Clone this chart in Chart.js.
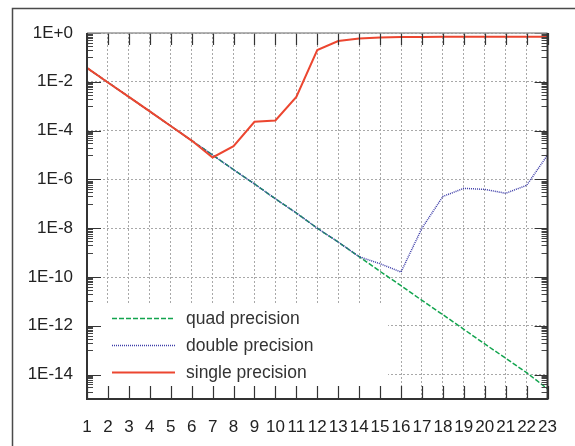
<!DOCTYPE html>
<html>
<head>
<meta charset="utf-8">
<script src="https://cdn.jsdelivr.net/npm/chart.js@4/dist/chart.umd.min.js"></script>
<style>
  html, body { margin: 0; padding: 0; background: #fff; }
  canvas { display: block; }
</style>
</head>
<body>
<canvas id="c" width="575" height="446"></canvas>
<script>
// ---- data ----
const steps = [1,2,3,4,5,6,7,8,9,10,11,12,13,14,15,16,17,18,19,20,21,22,23];
const quadError = [3.7e-2, 9.4e-3, 2.4e-3, 6.1e-4, 1.55e-4, 3.9e-5, 1.0e-5, 2.5e-6, 6.5e-7, 1.6e-7,
                   4.2e-8, 1.0e-8, 2.7e-9, 6.8e-10, 1.7e-10, 4.4e-11, 1.1e-11, 2.85e-12, 7.2e-13,
                   1.8e-13, 4.7e-14, 1.2e-14, 2.6e-15];
const doubleError = [3.7e-2, 9.4e-3, 2.4e-3, 6.1e-4, 1.55e-4, 3.9e-5, 1.0e-5, 2.5e-6, 6.5e-7, 1.6e-7,
                     4.2e-8, 1.0e-8, 2.7e-9, 6.8e-10, 3.5e-10, 1.6e-10, 1.0e-8, 2.0e-7, 4.3e-7,
                     3.9e-7, 2.7e-7, 5.7e-7, 1.0e-5];
const singleError = [3.7e-2, 9.4e-3, 2.4e-3, 6.1e-4, 1.55e-4, 3.9e-5, 7.9e-6, 2.3e-5, 2.3e-4, 2.6e-4,
                     2.4e-3, 0.2, 0.47, 0.6, 0.65, 0.68, 0.69, 0.7, 0.7, 0.7, 0.7, 0.7, 0.7];
const seriesNames = ['single precision', 'double precision', 'quad precision'];
const yTickExponents = [0, -2, -4, -6, -8, -10, -12, -14];
const yMinorExponents = [-1, -3, -5, -7, -9, -11, -13, -15];
const yMin = 1e-15, yMax = 1;

const FONT = "'Liberation Sans', Arial, Helvetica, sans-serif";
const RED = '#ec4630', BLUE = '#3c3ca8', GREEN = '#12a44e';

const overlay = {
  id: 'overlay',
  beforeDraw(chart) {
    const ctx = chart.ctx;
    ctx.save();
    ctx.strokeStyle = '#4a4a4a';
    ctx.lineWidth = 1.5;
    ctx.strokeRect(12.5, 8.5, 700, 600);
    ctx.restore();
  },
  beforeDatasetsDraw(chart) {
    const {ctx, chartArea: a} = chart;
    ctx.save();
    ctx.fillStyle = '#fff';
    ctx.fillRect(a.left + 1, 305, 387 - a.left, a.bottom - 305);
    ctx.restore();
  },
  afterDatasetsDraw(chart) {
    const {ctx, chartArea: a} = chart;
    const xs = chart.scales.x, ys = chart.scales.y;
    ctx.save();
    // x ticks (inward, top and bottom)
    ctx.strokeStyle = '#333';
    ctx.lineWidth = 1.2;
    ctx.beginPath();
    steps.forEach((s, i) => {
      const px = Math.round(xs.getPixelForValue(i)) + 0.5;
      ctx.moveTo(px, a.top); ctx.lineTo(px, a.top + 12);
      ctx.moveTo(px, a.bottom); ctx.lineTo(px, a.bottom - 13);
    });
    ctx.stroke();
    // y major ticks
    ctx.beginPath();
    yTickExponents.forEach(e => {
      const py = Math.round(ys.getPixelForValue(Math.pow(10, e))) + 0.5;
      ctx.moveTo(a.left, py); ctx.lineTo(a.left + 14, py);
      ctx.moveTo(a.right, py); ctx.lineTo(a.right - 13, py);
    });
    ctx.stroke();
    // y minor ticks
    ctx.lineWidth = 1;
    ctx.strokeStyle = '#444';
    ctx.beginPath();
    yMinorExponents.forEach(e => {
      for (let k = 1; k <= 9; k++) {
        const v = k * Math.pow(10, e);
        if (v < yMin || v > yMax) continue;
        const py = Math.round(ys.getPixelForValue(v)) + 0.5;
        ctx.moveTo(a.left, py); ctx.lineTo(a.left + 6, py);
        ctx.moveTo(a.right, py); ctx.lineTo(a.right - 6, py);
      }
    });
    ctx.stroke();
    // borders
    ctx.strokeStyle = '#999';
    ctx.lineWidth = 1.5;
    ctx.beginPath(); ctx.moveTo(a.left, a.top); ctx.lineTo(a.right, a.top); ctx.stroke();
    ctx.strokeStyle = '#333';
    ctx.lineWidth = 2;
    ctx.beginPath();
    ctx.moveTo(a.left, a.top); ctx.lineTo(a.left, a.bottom); ctx.lineTo(a.right, a.bottom); ctx.lineTo(a.right, a.top);
    ctx.stroke();
    // legend
    const items = [
      {name: seriesNames[2], color: GREEN, dash: [5, 2], width: 1.5, y: 318},
      {name: seriesNames[1], color: BLUE, dash: [1, 1], width: 1.5, y: 345},
      {name: seriesNames[0], color: RED, dash: [], width: 2, y: 372}
    ];
    ctx.font = '17.5px ' + FONT;
    ctx.textBaseline = 'middle';
    ctx.textAlign = 'left';
    items.forEach(it => {
      ctx.strokeStyle = it.color;
      ctx.lineWidth = it.width;
      ctx.setLineDash(it.dash);
      ctx.beginPath(); ctx.moveTo(112, it.y + 0.5); ctx.lineTo(175, it.y + 0.5); ctx.stroke();
      ctx.setLineDash([]);
      ctx.fillStyle = '#333';
      ctx.fillText(it.name, 186, it.y + 1);
    });
    ctx.restore();
  }
};

new Chart(document.getElementById('c'), {
  type: 'line',
  data: {
    labels: steps.map(String),
    datasets: [
      {label: seriesNames[0], data: singleError, borderColor: RED, borderWidth: 2, pointRadius: 0, tension: 0, fill: false},
      {label: seriesNames[1], data: doubleError, borderColor: BLUE, borderWidth: 1.5, borderDash: [1, 1], pointRadius: 0, tension: 0, fill: false},
      {label: seriesNames[2], data: quadError, borderColor: GREEN, borderWidth: 1.5, borderDash: [5, 2], pointRadius: 0, tension: 0, fill: false}
    ]
  },
  options: {
    responsive: false,
    animation: false,
    devicePixelRatio: 1,
    layout: {padding: {left: 0, top: 33, right: 22, bottom: 0}},
    plugins: {legend: {display: false}, tooltip: {enabled: false}},
    scales: {
      x: {
        type: 'category',
        offset: false,
        grid: {color: '#a8a8a8', lineWidth: 1, drawTicks: false},
        border: {display: false, dash: [2, 2]},
        ticks: {color: '#222', font: {family: FONT, size: 17}, padding: 18, maxRotation: 0, autoSkip: false},
        afterFit(scale) { scale.height = 47; }
      },
      y: {
        type: 'logarithmic',
        min: yMin,
        max: yMax,
        grid: {color: '#a8a8a8', lineWidth: 1, drawTicks: false},
        border: {display: false, dash: [2, 2]},
        afterBuildTicks(scale) {
          scale.ticks = yTickExponents.map(e => ({value: Math.pow(10, e), major: false}));
        },
        ticks: {
          color: '#222',
          font: {family: FONT, size: 17},
          padding: 14,
          autoSkip: false,
          callback(value) {
            const e = Math.round(Math.log10(value));
            return e >= 0 ? '1E+' + e : '1E' + e;
          }
        },
        afterFit(scale) { scale.width = 87; }
      }
    }
  },
  plugins: [overlay]
});
</script>
</body>
</html>
